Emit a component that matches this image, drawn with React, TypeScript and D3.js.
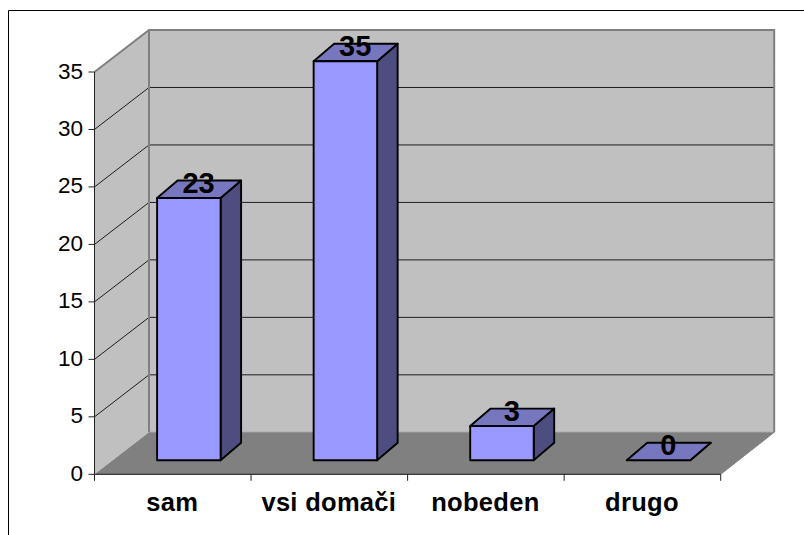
import React from "react";
import * as d3 from "d3";

const categories = ["sam", "vsi domači", "nobeden", "drugo"];
const values = [23, 35, 3, 0];
const yTicks = [0, 5, 10, 15, 20, 25, 30, 35];

const W = 804, H = 535;
const FONT = "'Liberation Sans', Arial, sans-serif";
const depthX = 54.5, depthY = 42;
const barDX = 20.5, barDY = 17.5;

const axisY = d3.scaleLinear().domain([0, 35]).range([474.3, 72]);
const barY = d3.scaleLinear().domain([0, 35]).range([460.3, 61.2]);
const x = d3.scaleBand<string>().domain(categories).range([94.5, 720.7]);
const barLeft = (c: string) => (x(c) as number) + 62.6;
const barW = 63.5;

const pts = (p: number[][]) => p.map((q) => q.join(",")).join(" ");

export default function App() {
  const x0 = 94.5, x1 = 720.7;
  const bx0 = x0 + depthX, bx1 = x1 + depthX - 1;
  const y0 = axisY(0), yT = axisY(35);
  return (
    <svg width={W} height={H} style={{ position: "absolute", left: 0, top: 0, background: "#fff" }}>
      <path d={`M8.5,${H} V10.5 H${W}`} fill="none" stroke="#000" strokeWidth={1} />
      {/* side wall, back wall, floor */}
      <polygon points={pts([[x0, yT], [bx0, yT - depthY], [bx0, y0 - depthY], [x0, y0]])} fill="#c0c0c0" />
      <rect x={bx0} y={yT - depthY} width={bx1 - bx0} height={y0 - yT} fill="#c0c0c0" />
      <polygon points={pts([[x0, y0], [bx0, y0 - depthY], [bx1, y0 - depthY], [x1, y0]])} fill="#808080" />
      {yTicks.slice(1, -1).map((t) => (
        <g key={t}>
          <line x1={bx0} x2={bx1} y1={axisY(t) - depthY} y2={axisY(t) - depthY} stroke="#000" strokeOpacity={0.85} />
          <line x1={x0} x2={bx0} y1={axisY(t)} y2={axisY(t) - depthY} stroke="#000" strokeOpacity={0.85} />
        </g>
      ))}
      {/* wall borders */}
      <path d={`M${x0},${yT} L${bx0},${yT - depthY} H${bx1} V${y0 - depthY}`} fill="none" stroke="#808080" strokeWidth={2} />
      <line x1={bx0} x2={bx0} y1={yT - depthY} y2={y0 - depthY} stroke="#808080" strokeWidth={2} />
      <line x1={bx0} x2={bx1} y1={y0 - depthY} y2={y0 - depthY} stroke="#909090" strokeWidth={1} />
      <line x1={x1} x2={bx1} y1={y0} y2={y0 - depthY} stroke="#808080" strokeWidth={1} />
      {/* axes */}
      <line x1={x0} x2={x0} y1={yT} y2={y0} stroke="#222" strokeWidth={1} />
      <line x1={x0} x2={x1} y1={y0} y2={y0} stroke="#111" strokeWidth={1} />
      {yTicks.map((t) => (
        <g key={t}>
          <line x1={x0 - 6} x2={x0} y1={axisY(t)} y2={axisY(t)} stroke="#222" />
          <text x={83} y={axisY(t) + 6.5} textAnchor="end" fontFamily={FONT} fontSize={22.5} fill="#000">{t}</text>
        </g>
      ))}
      {[...categories.map((c) => x(c) as number), x1].map((px) => (
        <line key={px} x1={px} x2={px} y1={y0} y2={y0 + 6.5} stroke="#222" />
      ))}
      {categories.map((c) => (
        <text key={c} x={(x(c) as number) + x.bandwidth() / 2 - 0.5} y={510.5} textAnchor="middle" fontFamily={FONT} fontSize={25.5} fontWeight="bold" letterSpacing={0.3} fill="#000">{c}</text>
      ))}
      {/* bars */}
      {categories.map((c, i) => {
        const l = barLeft(c), r = l + barW, t = barY(values[i]), b = barY(0);
        return (
          <g key={c} stroke="#000" strokeWidth={1.9} strokeLinejoin="round">
            <polygon points={pts([[r, t], [r + barDX, t - barDY], [r + barDX, b - barDY], [r, b]])} fill="#4d4d80" />
            <polygon points={pts([[l, t], [l + barDX, t - barDY], [r + barDX, t - barDY], [r, t]])} fill="#7777bf" />
            <rect x={l} y={t} width={barW} height={b - t} fill="#9999ff" />
          </g>
        );
      })}
      {categories.map((c, i) => (
        <text key={c} x={barLeft(c) + 41.5} y={barY(values[i]) - 5.5} textAnchor="middle" fontFamily={FONT} fontSize={29} fontWeight="bold" fill="#000">{values[i]}</text>
      ))}
    </svg>
  );
}
